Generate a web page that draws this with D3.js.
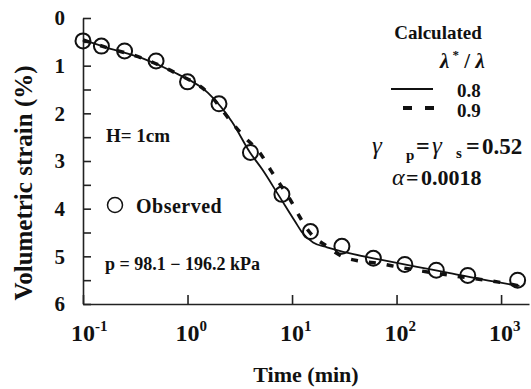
<!DOCTYPE html>
<html><head><meta charset="utf-8">
<script src="https://cdn.jsdelivr.net/npm/d3@7"></script>
<style>
body{margin:0;background:#fff;}
text{font-family:"Liberation Serif","Times New Roman",serif;font-weight:bold;fill:#111;}
</style></head>
<body><svg id="c" width="531" height="389"></svg>
<script>
// Observed data
const obsTime = [0.1, 0.15, 0.25, 0.5, 1, 2, 4, 8, 15, 30, 60, 120, 240, 480, 1440];
const obsStrain = [0.48, 0.59, 0.69, 0.90, 1.34, 1.80, 2.82, 3.70, 4.48, 4.79, 5.04, 5.17, 5.29, 5.40, 5.50];
// Calculated, lambda*/lambda = 0.8 (solid)
const calc08Time = [0.1, 0.174, 0.367, 0.76, 1.57, 2.67, 3.96, 5.2, 7.35, 10.7, 12.5, 15.9, 21.6, 36, 74, 157, 324, 676, 1500];
const calc08Strain = [0.46, 0.63, 0.84, 1.15, 1.57, 2.18, 2.82, 3.18, 3.70, 4.27, 4.50, 4.71, 4.81, 4.94, 5.08, 5.22, 5.35, 5.49, 5.62];
// Calculated, lambda*/lambda = 0.9 (dashed)
const calc09Time = [0.1, 0.174, 0.367, 0.76, 1.57, 2.67, 3.55, 4.9, 6.2, 7.7, 9.6, 11.9, 14.8, 21.6, 30, 45, 69, 107, 380, 830, 1500];
const calc09Strain = [0.46, 0.63, 0.84, 1.15, 1.57, 2.20, 2.51, 2.82, 3.18, 3.49, 3.81, 4.18, 4.50, 4.79, 5.00, 5.10, 5.15, 5.23, 5.42, 5.52, 5.62];
// Axes
const xTicks = [0.1, 1, 10, 100, 1000];
const xTickExp = ["-1", "0", "1", "2", "3"];
const yTicks = [0, 0.5, 1, 1.5, 2, 2.5, 3, 3.5, 4, 4.5, 5, 5.5, 6];
const xDomain = [0.1, 1850];
const yDomain = [0, 6];

const svg = d3.select("#c");
const L = 83, T = 18, W = 446, H = 286;
const x = d3.scaleLog().domain(xDomain).range([L, L + W]);
const y = d3.scaleLinear().domain(yDomain).range([T, T + H]);

// X axis
const gx = svg.append("g").attr("transform", `translate(0,${T + H})`)
  .call(d3.axisBottom(x).tickValues(xTicks).tickSizeInner(-9).tickSizeOuter(0).tickFormat(""));
gx.select(".domain").attr("stroke", "#222").attr("stroke-width", 1.6);
gx.selectAll(".tick line").attr("stroke", "#222").attr("stroke-width", 1.6);
xTicks.forEach((v, i) => {
  const t = svg.append("text").attr("x", x(v) - 12).attr("y", T + H + 37)
    .attr("font-size", 24).text("10");
  t.append("tspan").attr("font-size", 15).attr("dy", -10).text(xTickExp[i]);
});

// Y axis
const gy = svg.append("g").attr("transform", `translate(${L},0)`)
  .call(d3.axisLeft(y).tickValues(yTicks).tickSizeInner(-8).tickSizeOuter(0).tickPadding(18)
    .tickFormat(d => Number.isInteger(d) ? d : ""));
gy.select(".domain").attr("stroke", "#222").attr("stroke-width", 1.6);
gy.selectAll(".tick line").attr("stroke", "#222").attr("stroke-width", 1.6);
gy.selectAll(".tick text").attr("font-size", 21).attr("fill", "#111");

// Axis titles
svg.append("text").attr("x", L + W / 2).attr("y", 382).attr("text-anchor", "middle")
  .attr("font-size", 22).text("Time (min)");
svg.append("text").attr("transform", "translate(32,183) rotate(-90)").attr("text-anchor", "middle")
  .attr("font-size", 25).text("Volumetric strain (%)");

// Curves
const line = d3.line().x(d => x(d[0])).y(d => y(d[1])).curve(d3.curveMonotoneX);
svg.append("path").datum(calc08Time.map((t, i) => [t, calc08Strain[i]]))
  .attr("d", line).attr("fill", "none").attr("stroke", "#111").attr("stroke-width", 1.8);
svg.append("path").datum(calc09Time.map((t, i) => [t, calc09Strain[i]]))
  .attr("d", line).attr("fill", "none").attr("stroke", "#111").attr("stroke-width", 3.5)
  .attr("stroke-dasharray", "7,11");

// Observed points
svg.append("g").selectAll("circle").data(obsTime.map((t, i) => [t, obsStrain[i]])).join("circle")
  .attr("cx", d => x(d[0])).attr("cy", d => y(d[1])).attr("r", 7.5)
  .attr("fill", "none").attr("stroke", "#111").attr("stroke-width", 2);

// Annotations
svg.append("text").attr("x", 106).attr("y", 142).attr("font-size", 19).text("H= 1cm");
svg.append("circle").attr("cx", 115).attr("cy", 205).attr("r", 7.5).attr("fill", "none")
  .attr("stroke", "#111").attr("stroke-width", 1.5);
svg.append("text").attr("x", 136).attr("y", 213).attr("font-size", 20).attr("letter-spacing", 0.5).text("Observed");
svg.append("text").attr("x", 105).attr("y", 270).attr("font-size", 18).text("p = 98.1 \u2212 196.2 kPa");

// Legend
svg.append("text").attr("x", 438).attr("y", 39).attr("text-anchor", "middle").attr("font-size", 19).text("Calculated");
const lam = svg.append("text").attr("x", 440).attr("y", 68).attr("font-size", 21)
  .attr("font-weight", "normal").attr("font-style", "italic");
lam.append("tspan").text("\u03bb");
lam.append("tspan").attr("font-size", 13).attr("dy", -9).attr("font-style", "normal").text(" *");
lam.append("tspan").attr("dy", 9).attr("font-style", "normal").text(" / ");
lam.append("tspan").text("\u03bb");
svg.append("line").attr("x1", 391).attr("x2", 433).attr("y1", 89).attr("y2", 89)
  .attr("stroke", "#111").attr("stroke-width", 1.8);
svg.append("text").attr("x", 457).attr("y", 97).attr("font-size", 19).text("0.8");
svg.append("line").attr("x1", 403).attr("x2", 434).attr("y1", 108).attr("y2", 108)
  .attr("stroke", "#111").attr("stroke-width", 4).attr("stroke-dasharray", "9,13");
svg.append("text").attr("x", 457).attr("y", 117).attr("font-size", 19).text("0.9");

// gamma line
const g1 = svg.append("text").attr("y", 154).attr("font-size", 22);
g1.append("tspan").attr("x", 372).attr("font-size", 25).attr("font-weight", "normal").attr("font-style", "italic").text("\u03b3");
g1.append("tspan").attr("x", 406).attr("font-size", 15).attr("dy", 6).text("p");
g1.append("tspan").attr("x", 416).attr("dy", -6).attr("font-size", 24).text("=");
g1.append("tspan").attr("x", 432).attr("font-size", 25).attr("font-weight", "normal").attr("font-style", "italic").text("\u03b3");
g1.append("tspan").attr("x", 456).attr("font-size", 15).attr("dy", 4).text("s");
g1.append("tspan").attr("x", 466).attr("dy", -4).attr("font-size", 24).text("=");
g1.append("tspan").attr("x", 482).attr("font-size", 23).text("0.52");
// alpha line
const a1 = svg.append("text").attr("y", 185).attr("font-size", 22);
a1.append("tspan").attr("x", 392).attr("font-size", 24).attr("font-weight", "normal").attr("font-style", "italic").text("\u03b1");
a1.append("tspan").attr("x", 406).text("=");
a1.append("tspan").attr("x", 421).text("0.0018");
</script></body></html>
